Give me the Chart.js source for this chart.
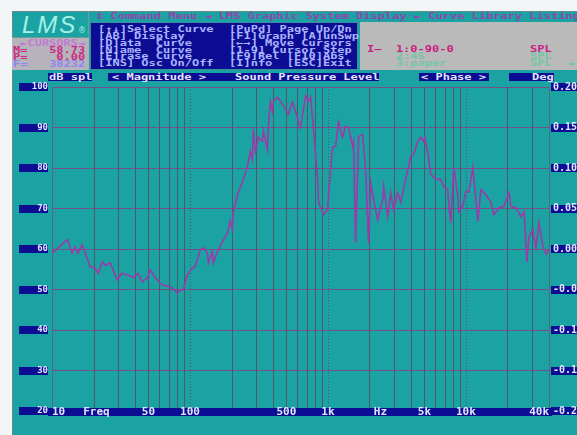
<!DOCTYPE html>
<html>
<head>
<meta charset="utf-8">
<title>LMS Graphic System Display</title>
<script src="https://cdn.jsdelivr.net/npm/chart.js@4.4.0/dist/chart.umd.min.js"></script>
<style>
    html, body { margin: 0; padding: 0; background: #f2f6f6; }
    #wrap { position: relative; width: 577px; height: 435px; overflow: hidden; }
    #screen { position: absolute; left: 12px; top: 11px; right: 0; bottom: 0; background: #1ba3a3;
              border-left: 1px solid #5f8e90; border-top: 1px solid #5f8e90; }
    .panel { position: absolute; box-sizing: border-box; }
    .dos { position: absolute; font: bold 12px/10px 'DejaVu Sans Mono', monospace; white-space: pre;
           transform: scaleY(0.68); transform-origin: 0 0; }
    .menu { color: #aab4ff; }
    .hdr { color: #e2e4ff; }
    .hdr-box { position: absolute; top: 73px; height: 8px; background: #0d0d94; }
    .c1 { color: #c8227f; }
    .c2 { color: #74c6a6; }
    #logo { left: 12px; top: 11px; width: 77px; height: 27px; border-right: 1px solid #6a9c9c; border-bottom: 1px solid #6a9c9c; }
    .logo-text { position: absolute; left: 10px; top: 0px; font: italic 24px 'Liberation Sans', sans-serif;
                 letter-spacing: 2px; color: #a6efe9; }
    .logo-mark { position: absolute; left: 66px; top: 15px; font: 8px 'DejaVu Sans', sans-serif; color: #a6efe9; }
    #cursors { left: 12px; top: 38px; width: 77px; height: 32px; background: #b7b3bb; }
    #menu { left: 90px; top: 22px; width: 268px; height: 48px; background: #0d0d94; border: 1px solid #3a8f9a; }
    #legend { left: 360px; top: 22px; width: 217px; height: 48px; background: #bababa; }
    #spl-chart { position: absolute; left: 0; top: 0; }
</style>
</head>
<body>
<div id="wrap">
    <div id="screen"></div>

    <!-- logo and cursor readout -->
    <div class="panel" id="logo"><span class="logo-text">LMS</span><span class="logo-mark">®</span></div>
    <div class="panel" id="cursors"></div>
    <div class="dos" style="left:13px;top:39.8px"><span style="color:#c47ad2"> ►CURSORS◄</span>
<span style="color:#cc2a86">M=   <span id="cur-m">58.73</span></span>
<span style="color:#cc2a86">P=    0.00</span>
<span style="color:#8f86f2">F=   <span id="cur-f">38232</span></span></div>

    <!-- title bar -->
    <div class="dos" style="left:96px;top:12.8px;color:#9246ad">‡ Command Menu ◄ LMS Graphic System Display ► Curve Library Listing</div>

    <!-- command menu -->
    <div class="panel" id="menu"></div>
    <div class="dos menu" style="left:98px;top:25.8px">[↑↓]Select Curve
[AB] Display
[D]ata  Curve
[N]ame  Curve
[E]rase Curve
[INS] Osc On/Off</div>
    <div class="dos menu" style="left:229px;top:25.8px">[PuPd] Page Up/Dn
[F1]Graph [A]unSwp
[←→] Move Cursors
[1-9] Cursor Step
[F9]Rel [F10]Abs
[I]nfo  [ESC]Exit</div>

    <!-- curve library -->
    <div class="panel" id="legend"></div>
    <div class="dos" style="left:367px;top:46.3px"><span class="c1">I—  1:0-90-0</span>
<span class="c2">    2:45</span>
<span class="c2">    3:paper</span></div>
    <div class="dos" style="left:530px;top:46.3px"><span class="c1">SPL</span>
<span class="c2">SPL</span>
<span class="c2">SPL  ◄-</span></div>

    <!-- graph header row -->
    <div class="hdr-box" style="left:48px;width:44px"></div>
    <div class="hdr-box" style="left:108px;width:271px"></div>
    <div class="hdr-box" style="left:419px;width:70px"></div>
    <div class="hdr-box" style="left:509px;width:45px"></div>
    <div class="dos hdr" style="left:49px;top:73.8px">dB spl</div>
    <div class="dos hdr" style="left:112px;top:73.8px">&lt; Magnitude &gt;</div>
    <div class="dos hdr" style="left:235px;top:73.8px">Sound Pressure Level</div>
    <div class="dos hdr" style="left:421px;top:73.8px">&lt; Phase &gt;</div>
    <div class="dos hdr" style="left:532px;top:73.8px">Deg</div>

    <canvas id="spl-chart" width="577" height="435"></canvas>
</div>

<script>
// Measured curve 1 (0-90-0), frequency in Hz and level in dB SPL
const freqHz = [
    10, 12.9, 14.0, 14.7, 15.4, 16.5, 17.4, 18.9, 20.5, 21.6,
    23.1, 24.3, 26.4, 29.7, 32.2, 35.1, 38.8, 42.1, 45.0, 49.0,
    51.5, 56.0, 62.9, 68.4, 74.4, 80.9, 85.0, 89.4, 95.6, 104,
    109, 119, 125, 134, 136, 145, 148, 158, 172, 187,
    196, 203, 206, 221, 244, 261, 274, 283, 288, 298,
    313, 335, 341, 364, 370, 383, 396, 403, 431, 453,
    518, 553, 582, 612, 633, 688, 723, 748, 786, 841,
    855, 929, 993, 1045, 1080, 1136, 1194, 1276, 1342, 1411,
    1509, 1534, 1586, 1668, 1784, 1875, 1971, 2039, 2143, 2292,
    2492, 2534, 2709, 2849, 2995, 3202, 3367, 3660, 3980, 4183,
    4474, 4705, 4947, 5028, 5287, 5560, 5847, 6250, 6572, 6910,
    7388, 7513, 7767, 8168, 8733, 8880, 9495, 9984, 10500, 11220,
    11800, 12200, 12830, 13950, 15160, 15940, 17340, 18850, 20490, 21190,
    23030, 25040, 26330, 27690, 28630, 30610, 31130, 32190, 33840, 36180,
    38232, 40000
];
const splDb = [
    59.0, 62.3, 59.0, 60.5, 59.0, 61.0, 59.0, 55.6, 55.3, 54.0,
    56.8, 56.0, 56.6, 52.4, 54.0, 53.6, 53.0, 54.0, 51.9, 52.9,
    54.8, 52.9, 51.1, 50.9, 50.4, 49.1, 49.9, 49.9, 53.6, 55.3,
    55.6, 59.8, 60.3, 59.0, 56.6, 59.3, 56.6, 59.3, 61.8, 64.0,
    67.0, 64.8, 69.0, 73.4, 77.2, 80.4, 84.1, 82.1, 89.6, 84.1,
    87.6, 86.6, 89.1, 84.6, 90.3, 96.3, 94.0, 96.5, 97.5, 96.5,
    93.3, 96.3, 94.0, 91.3, 90.0, 97.8, 96.5, 97.5, 89.6, 77.2,
    71.5, 68.5, 69.7, 79.7, 85.1, 85.4, 91.3, 87.6, 90.3, 90.0,
    85.4, 86.5, 61.5, 87.8, 88.3, 79.7, 61.5, 76.4, 72.2, 67.2,
    72.2, 75.4, 68.0, 73.9, 69.7, 73.9, 71.5, 77.2, 82.9, 83.4,
    86.6, 87.6, 86.6, 87.6, 83.9, 78.4, 77.7, 77.2, 77.2, 75.4,
    74.7, 71.0, 66.5, 80.1, 73.0, 69.2, 70.5, 74.2, 74.0, 80.1,
    72.2, 66.8, 74.7, 73.4, 71.5, 68.5, 70.2, 70.5, 73.9, 70.5,
    70.2, 68.0, 69.2, 56.8, 63.0, 64.8, 62.8, 60.3, 66.5, 60.5,
    58.73, 60.0
];

// Cursor position (F= readout)
const cursorHz = 38232;

// Frequency grid lines and the dotted decade lines
const gridHz = [
    20, 30, 40, 50, 60, 70, 80, 90,
    100, 200, 300, 400, 500, 600, 700, 800, 900,
    1000, 2000, 3000, 4000, 5000, 6000, 7000, 8000, 9000,
    10000, 20000, 30000
];
const decadeHz = [100, 1000, 10000];

// Labels printed in the frequency bar
const labelHz = [10, 21, 50, 100, 500, 1000, 2400, 5000, 10000, 40000];
const labelText = ['10', 'Freq', '50', '100', '500', '1k', 'Hz', '5k', '10k', '40k'];

// Screen palette
const PANEL_BLUE = '#0d0d94';
const LABEL_TEXT = '#e2e4ff';
const CURVE = '#9c3aa8';
const V_GRID = '#4f5a68';
const H_GRID = '#7a4f88';
const FRAME = '#5c6878';

/**
 * Vertical frequency lines, drawn on the x scale's pixel positions
 */
const freqGrid = {
    id: 'freqGrid',
    beforeDatasetsDraw(chart) {
        const { ctx, chartArea, scales: { x } } = chart;
        ctx.save();
        ctx.lineWidth = 1;
        ctx.strokeStyle = V_GRID;
        gridHz.forEach(f => {
            const px = Math.round(x.getPixelForValue(f)) + 0.5;
            ctx.setLineDash(decadeHz.includes(f) ? [1, 2] : []);
            ctx.beginPath();
            ctx.moveTo(px, chartArea.top);
            ctx.lineTo(px, chartArea.bottom);
            ctx.stroke();
        });
        ctx.restore();
    }
};

/**
 * Dark blue boxes behind the axis labels and the frequency bar
 */
const labelBoxes = {
    id: 'labelBoxes',
    beforeDraw(chart) {
        const { ctx, scales } = chart;
        ctx.save();
        ctx.fillStyle = PANEL_BLUE;
        scales.y.ticks.forEach(t => {
            const py = scales.y.getPixelForValue(t.value);
            ctx.fillRect(19, Math.round(py) - 4, 29, 8);
        });
        scales.y1.ticks.forEach(t => {
            const py = scales.y1.getPixelForValue(t.value);
            ctx.fillRect(551, Math.round(py) - 4, 26, 8);
        });
        ctx.restore();
    },
    afterDatasetsDraw(chart) {
        const { ctx, chartArea } = chart;
        ctx.save();
        ctx.fillStyle = PANEL_BLUE;
        ctx.fillRect(chartArea.left - 4, chartArea.bottom - 3, chartArea.right - chartArea.left + 7, 8);
        ctx.restore();
    }
};

/**
 * Fill the cursor readout from the curve data
 */
function setCursorReadout() {
    const idx = freqHz.indexOf(cursorHz);
    if (idx < 0) return;
    document.getElementById('cur-m').textContent = splDb[idx].toFixed(2);
    document.getElementById('cur-f').textContent = String(cursorHz);
}

/**
 * Render the SPL magnitude graph
 */
function renderGraph() {
    const ctx = document.getElementById('spl-chart').getContext('2d');
    const tickFont = { family: "'DejaVu Sans Mono', monospace", size: 9, weight: 'bold' };

    return new Chart(ctx, {
        type: 'line',
        data: {
            datasets: [{
                label: '1:0-90-0',
                data: freqHz.map((f, i) => ({ x: f, y: splDb[i] })),
                borderColor: CURVE,
                borderWidth: 1.6,
                pointRadius: 0,
                tension: 0,
                xAxisID: 'x',
                yAxisID: 'y'
            }]
        },
        options: {
            responsive: false,
            animation: false,
            layout: { padding: { top: 87, left: 0, right: 0, bottom: 0 } },
            plugins: {
                legend: { display: false },
                tooltip: { enabled: false }
            },
            scales: {
                x: {
                    type: 'logarithmic',
                    position: 'bottom',
                    min: 10,
                    max: 40000,
                    afterFit: s => { s.height = 24; },
                    grid: { display: false, drawTicks: false },
                    border: { display: false },
                    afterBuildTicks: s => { s.ticks = labelHz.map(v => ({ value: v })); },
                    ticks: {
                        z: 1,
                        mirror: true,
                        autoSkip: false,
                        maxRotation: 0,
                        align: 'inner',
                        padding: -8,
                        color: LABEL_TEXT,
                        font: { family: "'DejaVu Sans Mono', monospace", size: 11, weight: 'bold' },
                        callback: (v, i) => labelText[i]
                    }
                },
                y: {
                    position: 'left',
                    min: 20,
                    max: 100,
                    afterFit: s => { s.width = 52; },
                    ticks: { stepSize: 10, padding: 4, color: LABEL_TEXT, font: tickFont },
                    grid: { color: H_GRID, drawTicks: false },
                    border: { color: FRAME }
                },
                y1: {
                    position: 'right',
                    min: -0.2,
                    max: 0.2,
                    afterFit: s => { s.width = 28; },
                    ticks: {
                        stepSize: 0.05,
                        padding: 4,
                        color: LABEL_TEXT,
                        font: { family: "'DejaVu Sans Mono', monospace", size: 10, weight: 'bold' },
                        callback: v => v.toFixed(2)
                    },
                    grid: { display: false, drawTicks: false },
                    border: { color: FRAME }
                }
            }
        },
        plugins: [freqGrid, labelBoxes]
    });
}

setCursorReadout();
renderGraph();
</script>
</body>
</html>
